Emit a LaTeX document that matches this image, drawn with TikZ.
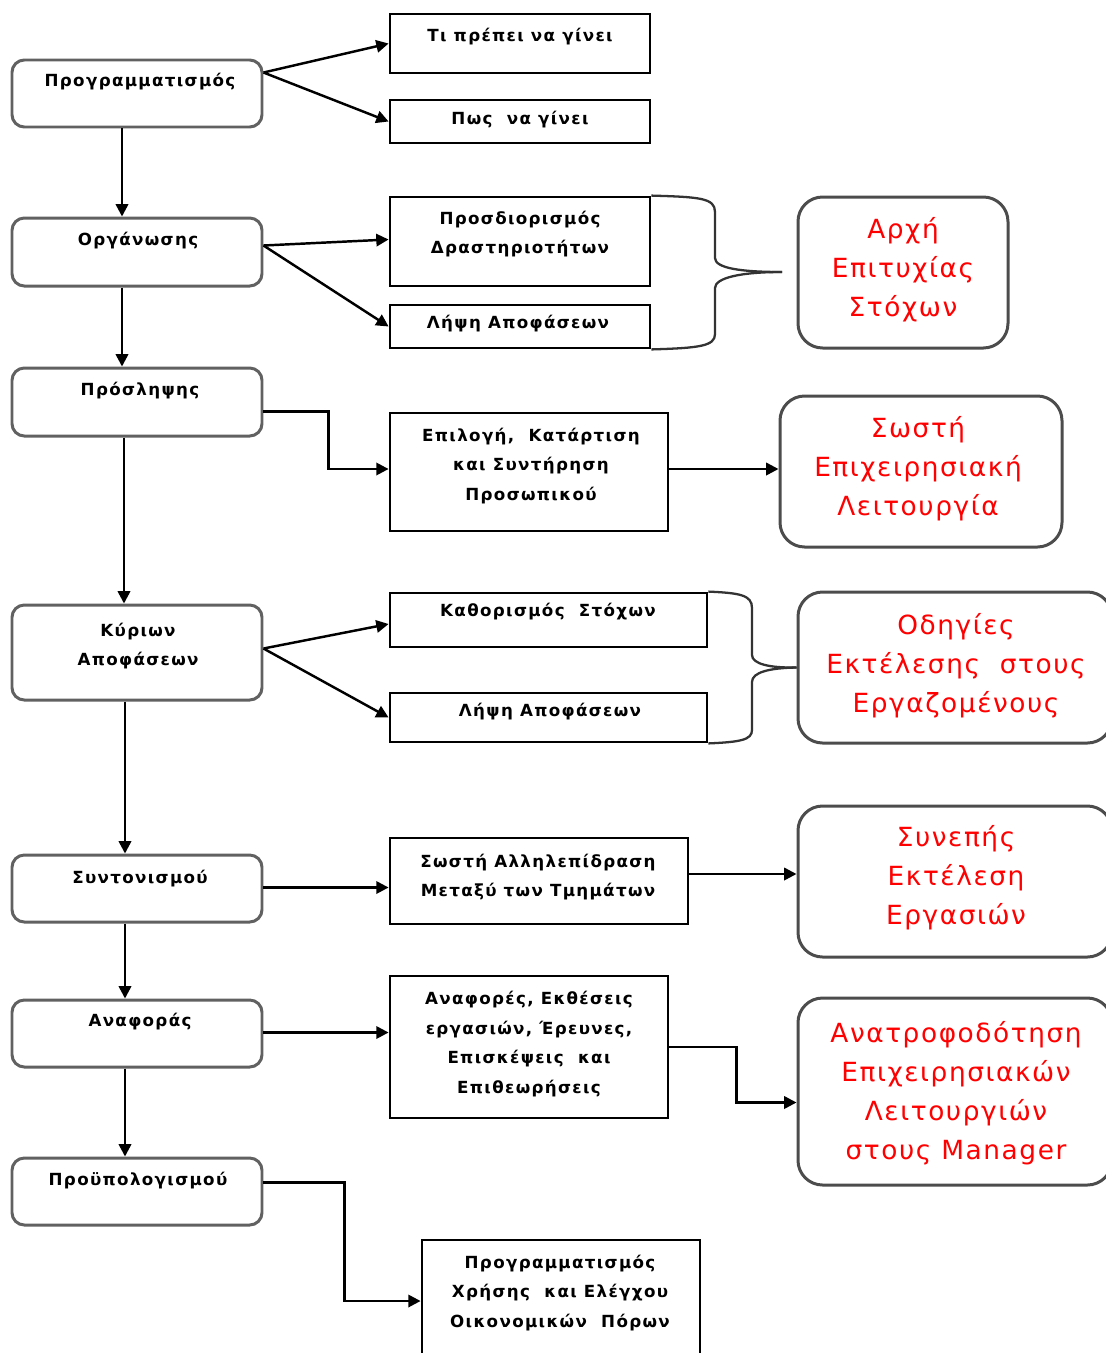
\documentclass[tikz,border=0pt]{standalone}
\usepackage{fontspec}
\setmainfont{DejaVu Sans}
\newfontfamily\labelfont[LetterSpace=8]{DejaVu Sans}
\newfontfamily\resultfont[LetterSpace=6]{DejaVu Sans}
\usetikzlibrary{arrows.meta,fit,calc}
\begin{document}
\begin{tikzpicture}[x=0.02cm,y=-0.02cm,
  lbox/.style={draw=black!62, line width=1.7pt, rounded corners=7pt, inner sep=0pt},
  mbox/.style={draw=black, line width=1.6pt, inner sep=0pt},
  rbox/.style={draw=black!70, line width=1.7pt, rounded corners=14pt, inner sep=0pt},
  btxt/.style={font=\labelfont\bfseries\fontsize{9.5}{17}\selectfont, align=center, inner sep=0pt},
  rtxt/.style={text=red, font=\resultfont\fontsize{15}{22.2}\selectfont, align=center, inner sep=0pt},
  conn/.style={line width=1.4pt, -{Triangle[length=7pt,width=7pt]}},
  brace/.style={draw=black!80, line width=1.3pt}]
\useasboundingbox (0,0) rectangle (1106,1353);
\clip (0,0) rectangle (1106,1353);

% left column: functions of management
\node[lbox, fit={(12,60) (262,127)}] (prog) {};
\node[lbox, fit={(12,218) (262,286)}] (org) {};
\node[lbox, fit={(12,368) (262,436)}] (proal) {};
\node[lbox, fit={(12,605) (262,700)}] (kyr) {};
\node[lbox, fit={(12,855) (262,922)}] (synt) {};
\node[lbox, fit={(12,1000) (262,1067)}] (anaf) {};
\node[lbox, fit={(12,1158) (262,1225)}] (proyp) {};

\node[btxt] (tprog) at (140,82) {Προγραμματισμός};
\node[btxt] (torg) at (138,241) {Οργάνωσης};
\node[btxt] (tproal) at (140,391) {Πρόσληψης};
\node[btxt] (tkyr) at (138,646) {Κύριων\\Αποφάσεων};
\node[btxt] (tsynt) at (140,879) {Συντονισμού};
\node[btxt] (tanaf) at (140,1022) {Αναφοράς};
\node[btxt] (tproyp) at (138,1181) {Προϋπολογισμού};

% middle column: activities
\node[mbox, fit={(390,14) (650,73)}] (ti) {};
\node[mbox, fit={(390,100) (650,143)}] (pos) {};
\node[mbox, fit={(390,197) (650,286)}] (prosd) {};
\node[mbox, fit={(390,305) (650,348)}] (lipsi1) {};
\node[mbox, fit={(390,413) (668,531)}] (epil) {};
\node[mbox, fit={(390,593) (707,647)}] (kath) {};
\node[mbox, fit={(390,693) (707,742)}] (lipsi2) {};
\node[mbox, fit={(390,838) (688,924)}] (symb) {};
\node[mbox, fit={(390,976) (668,1118)}] (anafores) {};
\node[mbox, fit={(422,1240) (700,1362)}] (progr) {};

\node[btxt] (tti) at (520,37) {Τι πρέπει να γίνει};
\node[btxt] (tpos) at (520,120) {Πως\ \ να γίνει};
\node[btxt] (tprosd) at (520,234) {Προσδιορισμός\\Δραστηριοτήτων};
\node[btxt] (tlipsi1) at (518,324) {Λήψη Αποφάσεων};
\node[btxt] (tepil) at (531,466) {Επιλογή,\ \ Κατάρτιση\\και Συντήρηση\\Προσωπικού};
\node[btxt] (tkath) at (548,612) {Καθορισμός\ \ Στόχων};
\node[btxt] (tlipsi2) at (550,712) {Λήψη Αποφάσεων};
\node[btxt] (tsymb) at (538,877) {Σωστή Αλληλεπίδραση\\Μεταξύ των Τμημάτων};
\node[btxt] (tanafores) at (529,1044) {Αναφορές, Εκθέσεις\\εργασιών, Έρευνες,\\Επισκέψεις\ \ και\\Επιθεωρήσεις};
\node[btxt] (tprogr) at (560,1293) {Προγραμματισμός\\Χρήσης\ \ και Ελέγχου\\Οικονομικών\ \ Πόρων};

% right column: results
\node[rbox, fit={(798,197) (1008,348)}] (arxi) {};
\node[rbox, fit={(780,396) (1062,547)}] (sosti) {};
\node[rbox, fit={(798,592) (1112,743)}] (odig) {};
\node[rbox, fit={(798,806) (1112,957)}] (synep) {};
\node[rbox, fit={(798,998) (1112,1185)}] (anatr) {};

\node[rtxt] (tarxi) at (903,270) {Αρχή\\Επιτυχίας\\Στόχων};
\node[rtxt] (tsosti) at (918,469) {Σωστή\\Επιχειρησιακή\\Λειτουργία};
\node[rtxt] (todig) at (956,666) {Οδηγίες\\Εκτέλεσης\ \ στους\\Εργαζομένους};
\node[rtxt] (tsynep) at (956,878) {Συνεπής\\Εκτέλεση\\Εργασιών};
\node[rtxt] (tanatr) at (956,1093) {Ανατροφοδότηση\\Επιχειρησιακών\\Λειτουργιών\\στους Manager};

% vertical chain
\draw[conn] ($(prog.south)+(-15,0)$) -- ($(org.north)+(-15,0)$);
\draw[conn] ($(org.south)+(-15,0)$) -- ($(proal.north)+(-15,0)$);
\draw[conn] ($(proal.south)+(-13,0)$) -- ($(kyr.north)+(-13,0)$);
\draw[conn] ($(kyr.south)+(-12,0)$) -- ($(synt.north)+(-12,0)$);
\draw[conn] ($(synt.south)+(-12,0)$) -- ($(anaf.north)+(-12,0)$);
\draw[conn] ($(anaf.south)+(-12,0)$) -- ($(proyp.north)+(-12,0)$);

% left to middle
\draw[conn] ($(prog.north east)+(0,14)$) -- (ti.west);
\draw[conn] ($(prog.north east)+(0,14)$) -- (pos.west);
\draw[conn] ($(org.north east)+(0,29)$) -- ($(prosd.west)+(0,-2)$);
\draw[conn] ($(org.north east)+(0,29)$) -- (lipsi1.west);
\draw[conn] ($(proal.north east)+(0,45)$) -- ++(65,0) |- ($(epil.west)+(0,-3)$);
\draw[conn] ($(kyr.east)+(0,-4)$) -- ($(kath.west)+(0,4)$);
\draw[conn] ($(kyr.east)+(0,-4)$) -- (lipsi2.west);
\draw[conn] ($(synt.east)+(0,-1)$) -- ($(synt.east -| symb.west)+(0,-1)$);
\draw[conn] ($(anaf.east)+(0,-1)$) -- ($(anaf.east -| anafores.west)+(0,-1)$);
\draw[conn] ($(proyp.north east)+(0,26)$) -- ++(81,0) |- (progr.west);

% middle to right
\draw[conn] ($(epil.east)+(0,-3)$) -- ($(epil.east -| sosti.west)+(0,-3)$);
\draw[conn] ($(symb.east)+(0,-7)$) -- ($(symb.east -| synep.west)+(0,-7)$);
\draw[conn] (anafores.east) -- ++(67,0) |- ($(anatr.west)+(0,11)$);

% braces
\coordinate (b1) at (782,272);
\draw[brace] (prosd.north east) .. controls (700,197) and (715,198) .. (715,212)
  -- (715,258) .. controls (715,268) and (740,272) .. (b1);
\draw[brace] (b1) .. controls (740,272) and (715,278) .. (715,288)
  -- (715,334) .. controls (715,346) and (700,348) .. (lipsi1.south east);
\draw[brace] (kath.north east) .. controls (740,593) and (752,595) .. (752,608)
  -- (752,655) .. controls (752,664) and (770,668) .. (odig.west);
\draw[brace] (odig.west) .. controls (770,668) and (752,672) .. (752,682)
  -- (752,730) .. controls (752,740) and (740,742) .. (lipsi2.south east);
\end{tikzpicture}
\end{document}
